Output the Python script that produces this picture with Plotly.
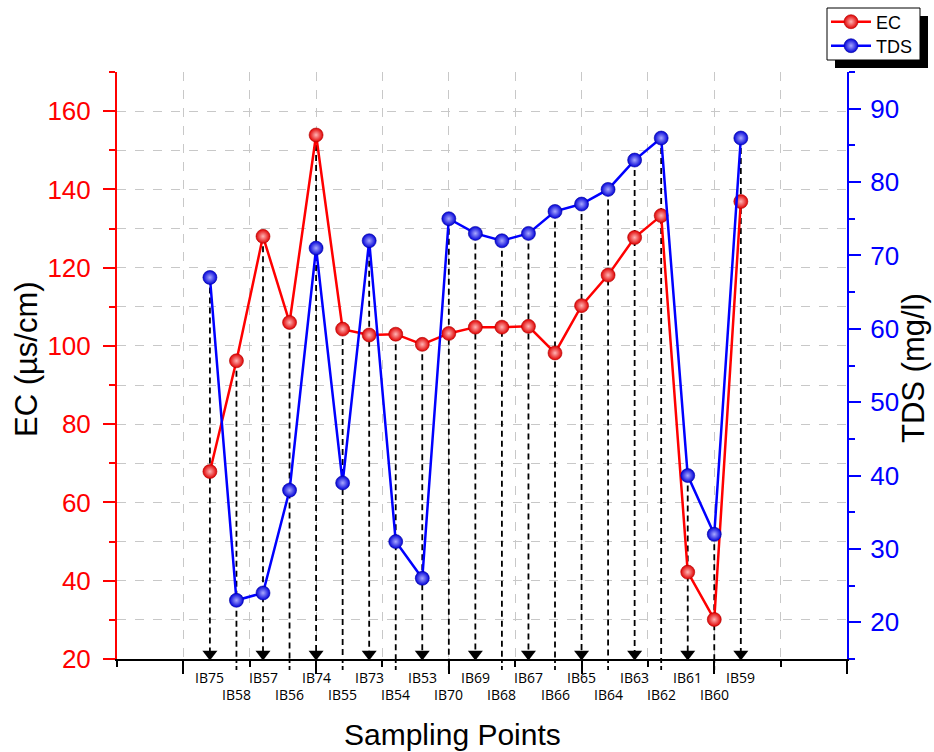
import plotly.graph_objects as go

# Sampling points in plotting order
sites = ["IB75", "IB58", "IB57", "IB56", "IB74", "IB55", "IB73", "IB54", "IB53", "IB70",
         "IB69", "IB68", "IB67", "IB66", "IB65", "IB64", "IB63", "IB62", "IB61", "IB60", "IB59"]
# Electrical conductivity (µs/cm)
ec = [67.9, 96.2, 128.0, 106.0, 153.9, 104.3, 102.8, 103.0, 100.4, 103.2,
      104.8, 104.8, 105.0, 98.2, 110.3, 118.1, 127.7, 133.3, 42.2, 30.1, 136.9]
# Total dissolved solids (mg/l)
tds = [67, 23, 24, 38, 71, 39, 72, 31, 26, 75, 73, 72, 73, 76, 77, 79, 83, 86, 40, 32, 86]

EC_RANGE = [20, 170]
TDS_RANGE = [15, 95]

# horizontal position of each site on the numeric x axis (0..11)
xpos = [1.4 + 0.4 * i for i in range(len(sites))]

# plot-area geometry (px)
L, R, T, B = 117, 87, 72, 93
W, H = 934, 752
PW, PH = W - L - R, H - T - B


def tds_on_ec(v):
    return EC_RANGE[0] + (v - TDS_RANGE[0]) * (EC_RANGE[1] - EC_RANGE[0]) / (TDS_RANGE[1] - TDS_RANGE[0])


def ec_at_offset(px):
    # EC-axis value lying px pixels above (+) / below (-) the x axis
    return EC_RANGE[0] + px * (EC_RANGE[1] - EC_RANGE[0]) / PH


def px_x(p):
    return (p - L) / PW


def px_y(p):
    return (H - B - p) / PH


fig = go.Figure()

# dashed drop lines from the higher of the two points down to the x axis
dx, dy = [], []
for x, e, t in zip(xpos, ec, tds):
    dx += [x, x, None]
    dy += [max(e, tds_on_ec(t)), EC_RANGE[0], None]
fig.add_trace(go.Scatter(x=dx, y=dy, mode="lines", showlegend=False, hoverinfo="skip",
                         line=dict(color="black", width=1.8, dash="6px,4px")))

fig.add_trace(go.Scatter(
    x=xpos, y=ec, name="EC", mode="lines+markers", legend="legend",
    line=dict(color="#ff0000", width=2.5),
    marker=dict(size=14, color="#e00000", gradient=dict(type="radial", color="#ffb4b4"),
                line=dict(width=0.6, color="#b00000")),
))
fig.add_trace(go.Scatter(
    x=xpos, y=tds, name="TDS", mode="lines+markers", yaxis="y2", legend="legend2",
    line=dict(color="#0000ff", width=2.5),
    marker=dict(size=14, color="#0000d8", gradient=dict(type="radial", color="#a8a8ff"),
                line=dict(width=0.6, color="#0000a0")),
))

# arrow heads: alternate between just above and just below the x axis
ax_y = [ec_at_offset(5) if i % 2 == 0 else ec_at_offset(-15) for i in range(len(sites))]
fig.add_trace(go.Scatter(x=xpos, y=ax_y, mode="markers", showlegend=False, hoverinfo="skip",
                         cliponaxis=False,
                         marker=dict(symbol="triangle-down", size=13, color="black",
                                     line=dict(width=0))))

shapes = []
annotations = []
for i, (x, s) in enumerate(zip(xpos, sites)):
    if i % 2 == 1:
        shapes.append(dict(type="line", xref="x", yref="paper", x0=x, x1=x,
                           y0=0, y1=-12 / PH, line=dict(color="black", width=1.8, dash="4px,3px")))
        ly = px_y(694)
    else:
        ly = px_y(677)
    annotations.append(dict(xref="x", yref="paper", x=x, y=ly, text=s, showarrow=False,
                            xanchor="center", yanchor="middle",
                            font=dict(family="Open Sans", size=14, color="black")))

# axis titles
annotations += [
    dict(xref="paper", yref="paper", x=px_x(452), y=px_y(734), text="Sampling Points",
         showarrow=False, xanchor="center", yanchor="middle",
         font=dict(family="Liberation Sans", size=30, color="black")),
    dict(xref="paper", yref="paper", x=px_x(26), y=px_y(359), text="EC (µs/cm)", textangle=-90,
         showarrow=False, xanchor="center", yanchor="middle",
         font=dict(family="Liberation Sans", size=31, color="black")),
    dict(xref="paper", yref="paper", x=px_x(914), y=px_y(368), text="TDS (mg/l)", textangle=-90,
         showarrow=False, xanchor="center", yanchor="middle",
         font=dict(family="Liberation Sans", size=31, color="black")),
]

# legend frame with a drop shadow along its right and bottom edges
shapes.append(dict(type="rect", xref="paper", yref="paper", layer="above",
                   x0=px_x(827), x1=px_x(920), y0=px_y(60), y1=px_y(8),
                   fillcolor="white", line=dict(color="black", width=1)))
shapes.append(dict(type="rect", xref="paper", yref="paper", layer="above",
                   x0=px_x(920), x1=px_x(928), y0=px_y(68), y1=px_y(16),
                   fillcolor="black", line=dict(width=0)))
shapes.append(dict(type="rect", xref="paper", yref="paper", layer="above",
                   x0=px_x(835), x1=px_x(928), y0=px_y(68), y1=px_y(60),
                   fillcolor="black", line=dict(width=0)))

legend_style = dict(xref="container", yref="container", xanchor="left", yanchor="middle",
                    bgcolor="rgba(0,0,0,0)", borderwidth=0,
                    font=dict(size=18, color="black", family="Liberation Sans"), itemwidth=40)

fig.update_layout(
    width=W, height=H,
    margin=dict(l=L, r=R, t=T, b=B, pad=0, autoexpand=False),
    plot_bgcolor="white", paper_bgcolor="white",
    font=dict(family="Liberation Sans", color="black"),
    showlegend=True,
    legend=dict(x=826 / W, y=1 - 22 / H, **legend_style),
    legend2=dict(x=826 / W, y=1 - 46 / H, **legend_style),
    xaxis=dict(range=[0, 11], tick0=1, dtick=2, ticks="outside", ticklen=13, tickwidth=2,
               tickcolor="black", showticklabels=False, showline=True, linecolor="black",
               linewidth=2, zeroline=False, automargin=False,
               showgrid=True, gridcolor="#c8c8c8", gridwidth=1, griddash="dash",
               minor=dict(dtick=1, tick0=0, ticks="outside", ticklen=6, tickwidth=2,
                          tickcolor="black", showgrid=True, gridcolor="#c8c8c8", griddash="dash")),
    yaxis=dict(range=EC_RANGE, tick0=20, dtick=20, ticks="outside", ticklen=12, tickwidth=2,
               tickcolor="#ff0000", showline=True, linecolor="#ff0000", linewidth=2,
               zeroline=False, automargin=False, ticklabelstandoff=7,
               tickfont=dict(size=26, color="#ff0000"),
               showgrid=True, gridcolor="#c8c8c8", gridwidth=1, griddash="dash",
               minor=dict(dtick=10, ticks="outside", ticklen=6, tickwidth=2, tickcolor="#ff0000",
                          showgrid=True, gridcolor="#c8c8c8", griddash="dash")),
    yaxis2=dict(range=TDS_RANGE, tick0=20, dtick=10, overlaying="y", side="right",
                ticks="outside", ticklen=12, tickwidth=2, tickcolor="#0000ff",
                showline=True, linecolor="#0000ff", linewidth=2, zeroline=False, showgrid=False,
                automargin=False, ticklabelstandoff=4,
                tickfont=dict(size=26, color="#0000ff"),
                minor=dict(dtick=5, ticks="outside", ticklen=6, tickwidth=2, tickcolor="#0000ff")),
    shapes=shapes,
    annotations=annotations,
)

fig.write_html("out.html")
